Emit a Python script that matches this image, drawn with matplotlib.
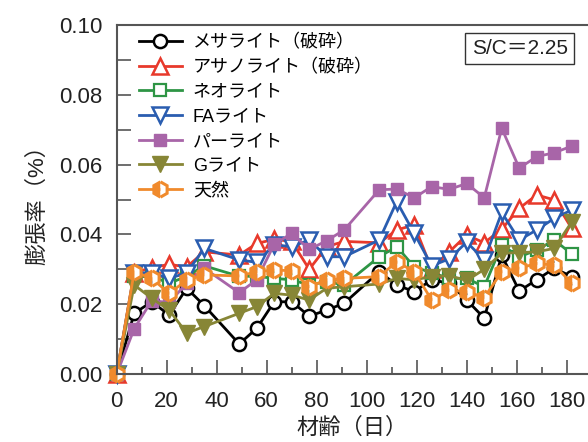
import matplotlib
matplotlib.use("Agg")
import matplotlib.pyplot as plt
from matplotlib.ticker import MultipleLocator

plt.rcParams['font.family'] = ['Liberation Sans', 'Noto Sans CJK JP', 'DejaVu Sans']

# 材齢（日）
days = [0, 7, 14, 21, 28, 35, 49, 56, 63, 70, 77, 84, 91, 105, 112, 119,
        126, 133, 140, 147, 154, 161, 168, 175, 182]

mesa = [0, 0.0174, 0.0207, 0.0169, 0.0246, 0.0196, 0.0086, 0.0131, 0.0207, 0.0207,
        0.0166, 0.0183, 0.0203, 0.0293, 0.0255, 0.0236, 0.0270, 0.0260, 0.0212, 0.0160,
        0.0340, 0.0238, 0.0270, 0.0303, 0.0279]
asano = [0, 0.0290, 0.0305, 0.0314, 0.0307, 0.0350, 0.0341, 0.0374, 0.0386, 0.0380,
         0.0300, 0.0365, 0.0380, 0.0376, 0.0413, 0.0427, 0.0300, 0.0350, 0.0398, 0.0376,
         0.0415, 0.0475, 0.0513, 0.0499, 0.0417]
neo = [0, 0.0280, 0.0280, 0.0260, 0.0280, 0.0310, 0.0280, 0.0280, 0.0274, 0.0270,
       0.0255, 0.0265, 0.0255, 0.0336, 0.0365, 0.0307, 0.0290, 0.0274, 0.0274, 0.0250,
       0.0370, 0.0336, 0.0355, 0.0384, 0.0344]
fa = [0, 0.0290, 0.0290, 0.0274, 0.0290, 0.0360, 0.0327, 0.0320, 0.0370, 0.0365,
      0.0384, 0.0336, 0.0336, 0.0384, 0.0494, 0.0403, 0.0310, 0.0330, 0.0378, 0.0327,
      0.0463, 0.0384, 0.0413, 0.0446, 0.0470]
perlite = [0, 0.0130, 0.0210, 0.0205, 0.0260, 0.0303, 0.0233, 0.0270, 0.0372, 0.0403,
           0.0357, 0.0382, 0.0413, 0.0528, 0.0530, 0.0505, 0.0537, 0.0529, 0.0546, 0.0505,
           0.0704, 0.0590, 0.0623, 0.0634, 0.0653]
glite = [0, 0.0255, 0.0217, 0.0183, 0.0117, 0.0136, 0.0174, 0.0193, 0.0231, 0.0226,
         0.0212, 0.0246, 0.0250, 0.0258, 0.0274, 0.0270, 0.0279, 0.0282, 0.0268, 0.0300,
         0.0346, 0.0348, 0.0350, 0.0360, 0.0436]
tennen = [0, 0.0293, 0.0274, 0.0231, 0.0269, 0.0284, 0.0281, 0.0293, 0.0298, 0.0296,
          0.0250, 0.0270, 0.0274, 0.0279, 0.0322, 0.0293, 0.0212, 0.0240, 0.0236, 0.0219,
          0.0293, 0.0303, 0.0317, 0.0312, 0.0260]

labels = ['メサライト（破砕）', 'アサノライト（破砕）', 'ネオライト', 'FAライト',
          'パーライト', 'Gライト', '天然']

fig = plt.figure(figsize=(5.88, 4.42), dpi=100)
ax = fig.add_axes([0.1985, 0.1538, 0.8015, 0.7896])

lw = 2.0
style = dict(lw=lw, clip_on=False)
ax.plot(days, mesa, color='black', marker='o', ms=9.5, mfc='white',
        mec='black', mew=1.8, label=labels[0], **style)
ax.plot(days, asano, color='#e8392b', marker='^', ms=11, mfc='white',
        mec='#e8392b', mew=1.8, label=labels[1], **style)
ax.plot(days, neo, color='#2e9545', marker='s', ms=8.5, mfc='white',
        mec='#2e9545', mew=1.6, label=labels[2], **style)
ax.plot(days, fa, color='#2a5db0', marker='v', ms=11, mfc='white',
        mec='#2a5db0', mew=1.8, label=labels[3], **style)
ax.plot(days, perlite, color='#a865a8', marker='s', ms=9, mfc='#a865a8',
        mec='#a865a8', label=labels[4], **style)
ax.plot(days, glite, color='#878636', marker='v', ms=11, mfc='#878636',
        mec='#878636', label=labels[5], **style)
ax.plot(days, tennen, color='#f08a2c', marker='h', ms=11, fillstyle='left',
        mfc='#f08a2c', mfcalt='white', mec='#f08a2c', mew=2.2, label=labels[6], **style)

ax.set_xlim(0, 188.5)
ax.set_ylim(0, 0.10)
ax.xaxis.set_major_locator(MultipleLocator(20))
ax.xaxis.set_minor_locator(MultipleLocator(10))
ax.yaxis.set_major_locator(MultipleLocator(0.02))
ax.yaxis.set_minor_locator(MultipleLocator(0.01))
ax.yaxis.set_major_formatter(matplotlib.ticker.FormatStrFormatter('%.2f'))

ax.tick_params(axis='both', which='both', direction='in', color='#555555',
               width=1.2, labelsize=16, labelcolor='#222222')
ax.tick_params(axis='x', which='major', length=10, pad=12)
ax.tick_params(axis='x', which='minor', length=5)
ax.tick_params(axis='y', which='both', length=10, pad=10)

for s in ['left', 'bottom', 'top']:
    ax.spines[s].set_color('#555555')
    ax.spines[s].set_linewidth(1.5)
ax.spines['right'].set_visible(False)

ax.set_xlabel('材齢（日）', fontsize=16, color='#222222', labelpad=4)
ax.set_ylabel('膨張率（%）', fontsize=16, color='#222222', labelpad=8)

ax.legend(loc='upper left', frameon=False, fontsize=13, handlelength=2.4,
          handletextpad=0.6, labelspacing=0.42, borderaxespad=0.3,
          bbox_to_anchor=(0.02, 1.01))

ax.text(0.855, 0.933, 'S/C＝2.25', transform=ax.transAxes, fontsize=15,
        ha='center', va='center', color='#222222',
        bbox=dict(boxstyle='square,pad=0.3', fc='white', ec='#333333', lw=1.0))

fig.savefig('out.png', dpi=100)
